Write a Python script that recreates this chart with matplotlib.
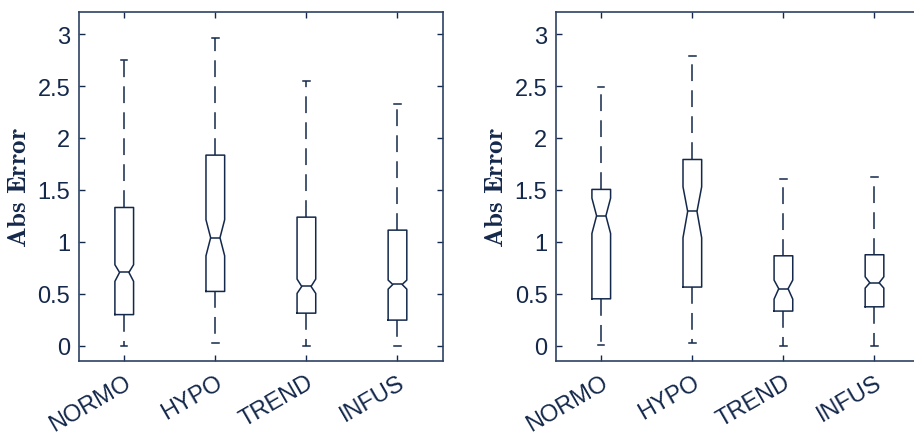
import matplotlib
matplotlib.use("Agg")
import matplotlib.pyplot as plt

plt.rcParams["font.family"] = ["Liberation Sans", "DejaVu Sans"]
plt.rcParams["mathtext.fontset"] = "cm"

groups = ["NORMO", "HYPO", "TREND", "INFUS"]

# left panel
left_whislo = [0.0, 0.026, 0.0, 0.0]
left_q1 = [0.30, 0.523, 0.314, 0.247]
left_cilo = [0.62, 0.866, 0.504, 0.545]
left_med = [0.706, 1.04, 0.571, 0.59]
left_cihi = [0.78, 1.213, 0.642, 0.632]
left_q3 = [1.331, 1.835, 1.238, 1.113]
left_whishi = [2.75, 2.964, 2.55, 2.326]

# right panel
right_whislo = [0.01, 0.029, 0.0, 0.0]
right_q1 = [0.452, 0.565, 0.334, 0.375]
right_cilo = [1.081, 1.04, 0.449, 0.555]
right_med = [1.251, 1.293, 0.549, 0.606]
right_cihi = [1.421, 1.53, 0.632, 0.664]
right_q3 = [1.505, 1.793, 0.866, 0.876]
right_whishi = [2.493, 2.788, 1.601, 1.627]

navy = "#14284b"
spine_col = "#2e4264"


def make_stats(whislo, q1, cilo, med, cihi, q3, whishi):
    stats = []
    for i in range(len(groups)):
        stats.append(dict(whislo=whislo[i], q1=q1[i], cilo=cilo[i], med=med[i],
                          cihi=cihi[i], q3=q3[i], whishi=whishi[i], fliers=[]))
    return stats


def draw_panel(ax, stats):
    ax.bxp(stats, positions=[1, 2, 3, 4], widths=0.205, shownotches=True,
           showfliers=False, capwidths=0.07,
           boxprops=dict(color=navy, linewidth=1.1),
           medianprops=dict(color=navy, linewidth=1.1),
           whiskerprops=dict(color=navy, linewidth=1.1, linestyle=(0, (11, 6))),
           capprops=dict(color=navy, linewidth=1.1))
    ax.set_xlim(0.5, 4.5)
    ax.set_ylim(-0.15, 3.215)
    ax.set_yticks([0, 0.5, 1, 1.5, 2, 2.5, 3])
    ax.set_yticklabels(["0", "0.5", "1", "1.5", "2", "2.5", "3"])
    ax.set_xticks([1, 2, 3, 4])
    ax.set_xticklabels(groups, rotation=30, ha="right", va="top",
                       rotation_mode="anchor", fontsize=16.5)
    ax.tick_params(direction="in", top=True, right=True, length=4,
                   color=navy, labelcolor=navy, labelsize=17, width=1.0)
    ax.tick_params(axis="x", pad=7)
    ax.tick_params(axis="y", pad=6)
    for s in ax.spines.values():
        s.set_color(spine_col)
        s.set_linewidth(1.2)
    ax.set_ylabel(r"$\mathbf{Abs\ Error}$", fontsize=19.5, color=navy, labelpad=4)


fig = plt.figure(figsize=(9.14, 4.35), dpi=100)
ax1 = fig.add_axes([0.0861, 0.167, 0.3986, 0.8037])
ax2 = fig.add_axes([0.608, 0.167, 0.3986, 0.8037])

draw_panel(ax1, make_stats(left_whislo, left_q1, left_cilo, left_med, left_cihi, left_q3, left_whishi))
draw_panel(ax2, make_stats(right_whislo, right_q1, right_cilo, right_med, right_cihi, right_q3, right_whishi))

fig.savefig("out.png", dpi=100)
